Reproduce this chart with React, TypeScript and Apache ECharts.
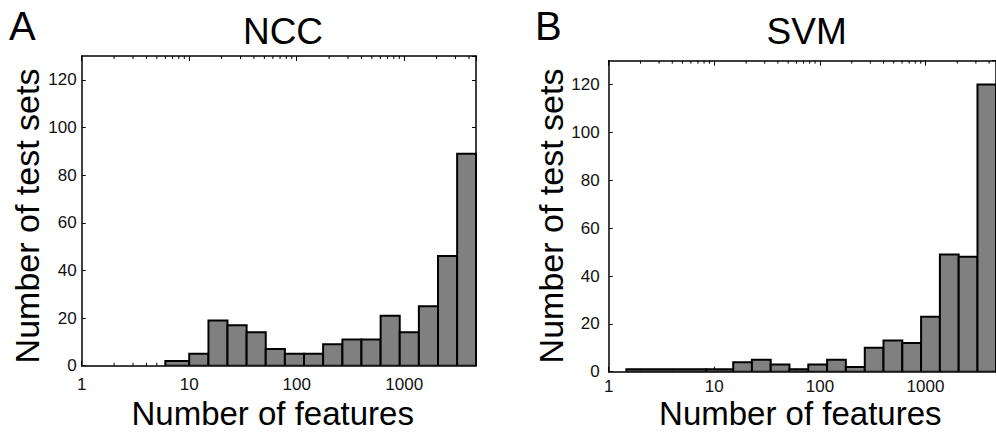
import React, { useEffect, useRef } from 'react';
import * as echarts from 'echarts';

// ---- data ----
const nccBinEdges = [6, 10, 15.1, 22.7, 34.2, 51.5, 77.6, 117, 176, 266, 400, 603, 908, 1368, 2061, 3105, 4650];
const nccCounts = [2, 5, 19, 17, 14, 7, 5, 5, 9, 11, 11, 21, 14, 25, 46, 89];
const svmBinEdges = [1.47, 8.4, 15.1, 22.7, 34.2, 51.5, 77.6, 117, 176, 266, 400, 603, 908, 1368, 2061, 3105, 4650];
const svmCounts = [1, 1, 4, 5, 3, 1, 3, 5, 2, 10, 13, 12, 23, 49, 48, 120];
const xTickLabels = [1, 10, 100, 1000];
const yTickLabels = [0, 20, 40, 60, 80, 100, 120];
const minorTickValues = [
  2, 3, 4, 5, 6, 7, 8, 9,
  20, 30, 40, 50, 60, 70, 80, 90,
  200, 300, 400, 500, 600, 700, 800, 900,
  2000, 3000, 4000,
];
const X_MIN = 1;
const X_MAX = 4650;
const Y_MAX = 130;
const panelLetters = ['A', 'B'];
const panelTitles = ['NCC', 'SVM'];
const xTitle = 'Number of features';
const yTitle = 'Number of test sets';

const FONT = '"Liberation Sans", Arial, Helvetica, sans-serif';
const INK = '#000';

function binData(edges: number[], counts: number[]) {
  return counts.map((c, i) => [edges[i], edges[i + 1], c]);
}

function App() {
  const ref = useRef<HTMLDivElement>(null);

  useEffect(() => {
    if (!ref.current) return;
    const chart = echarts.init(ref.current, undefined, { renderer: 'svg' });

    const grids = [
      { left: 81.7, top: 56, width: 394.3, height: 309.7 },
      { left: 608.7, top: 60.7, width: 396, height: 311 },
    ];
    const yLabelMargin = [5, 9];
    const xLabelMargin = [10.5, 6];

    const xAxes: any[] = [];
    const yAxes: any[] = [];
    const series: any[] = [];

    const axisLine = { show: true, onZero: false, lineStyle: { color: INK, width: 1.5 } };

    [0, 1].forEach((g) => {
      xAxes.push({
        type: 'log', logBase: 10, gridIndex: g, position: 'bottom', min: X_MIN, max: X_MAX,
        axisLine,
        axisTick: { show: true, inside: true, length: 5, lineStyle: { color: INK, width: 1 } },
        axisLabel: {
          show: true, fontFamily: FONT, fontSize: 17, color: '#111', margin: xLabelMargin[g],
          showMaxLabel: false,
          formatter: (v: number) => {
            const r = Math.round(v);
            return xTickLabels.includes(r) && Math.abs(v - r) < 1e-6 * Math.max(1, r) ? String(r) : '';
          },
        },
        splitLine: { show: false },
      });
      xAxes.push({
        type: 'log', logBase: 10, gridIndex: g, position: 'top', min: X_MIN, max: X_MAX,
        axisLine,
        axisTick: { show: true, inside: true, length: 5, lineStyle: { color: INK, width: 1 } },
        axisLabel: { show: false },
        splitLine: { show: false },
      });
      yAxes.push({
        type: 'value', gridIndex: g, position: 'left', min: 0, max: Y_MAX, interval: 20,
        axisLine,
        axisTick: { show: true, inside: true, length: 4, lineStyle: { color: INK, width: 1 } },
        axisLabel: {
          show: true, fontFamily: FONT, fontSize: 17, color: '#111', margin: yLabelMargin[g],
          showMaxLabel: false,
          formatter: (v: number) => (yTickLabels.includes(v) ? String(v) : ''),
        },
        splitLine: { show: false },
      });
      yAxes.push({
        type: 'value', gridIndex: g, position: 'right', min: 0, max: Y_MAX, interval: 20,
        axisLine,
        axisTick: { show: true, inside: true, length: 4, lineStyle: { color: INK, width: 1 } },
        axisLabel: { show: false },
        splitLine: { show: false },
      });

      const edges = g === 0 ? nccBinEdges : svmBinEdges;
      const counts = g === 0 ? nccCounts : svmCounts;

      series.push({
        type: 'custom',
        coordinateSystem: 'cartesian2d',
        xAxisIndex: g * 2,
        yAxisIndex: g * 2,
        clip: true,
        encode: { x: [0, 1], y: 2 },
        data: binData(edges, counts),
        renderItem: (_params: any, api: any) => {
          const p0 = api.coord([api.value(0), 0]);
          const p1 = api.coord([api.value(1), api.value(2)]);
          return {
            type: 'rect',
            shape: { x: p0[0], y: p1[1], width: p1[0] - p0[0], height: p0[1] - p1[1] },
            style: { fill: '#808080', stroke: '#000', lineWidth: 2 },
          };
        },
        silent: true,
        z: 3,
      });

      series.push({
        type: 'custom',
        coordinateSystem: 'cartesian2d',
        xAxisIndex: g * 2,
        yAxisIndex: g * 2,
        clip: false,
        encode: { x: 0, y: 1 },
        data: minorTickValues.map((v) => [v, 0]),
        renderItem: (_params: any, api: any) => {
          const x = api.coord([api.value(0), 0])[0];
          const yb = api.coord([X_MIN, 0])[1];
          const yt = api.coord([X_MIN, Y_MAX])[1];
          return {
            type: 'group',
            children: [
              { type: 'line', shape: { x1: x, y1: yb, x2: x, y2: yb - 3 }, style: { stroke: INK, lineWidth: 1 } },
              { type: 'line', shape: { x1: x, y1: yt, x2: x, y2: yt + 3 }, style: { stroke: INK, lineWidth: 1 } },
            ],
          };
        },
        silent: true,
        z: 2,
      });
    });

    const textEl = (text: string, x: number, y: number, size: number, align: string, rotation = 0, lineHeight?: number) => ({
      type: 'text',
      x, y, rotation,
      style: { text, font: `${size}px ${FONT}`, fill: INK, align, verticalAlign: 'middle', ...(lineHeight ? { lineHeight } : {}) },
      silent: true,
    });

    const graphic = [
      textEl(panelLetters[0], 9, 26, 40, 'left'),
      textEl(panelTitles[0], 283, 31, 37, 'center'),
      textEl(panelLetters[1], 535, 26, 40, 'left'),
      textEl(panelTitles[1], 806.7, 31, 37, 'center'),
      textEl(xTitle, 272.7, 413, 33, 'center', 0, 24),
      textEl(xTitle, 800.3, 413, 33, 'center', 0, 24),
      textEl(yTitle, 27, 216, 34, 'center', Math.PI / 2),
      textEl(yTitle, 550.5, 216, 34, 'center', Math.PI / 2),
    ];

    chart.setOption({
      animation: false,
      backgroundColor: '#fff',
      grid: grids.map((g) => ({ ...g, containLabel: false })),
      xAxis: xAxes,
      yAxis: yAxes,
      series,
      graphic,
    });

    return () => chart.dispose();
  }, []);

  return (
    <div
      ref={ref}
      style={{ position: 'fixed', left: 0, top: 0, width: 996, height: 432, background: '#fff' }}
    />
  );
}

export default App;
